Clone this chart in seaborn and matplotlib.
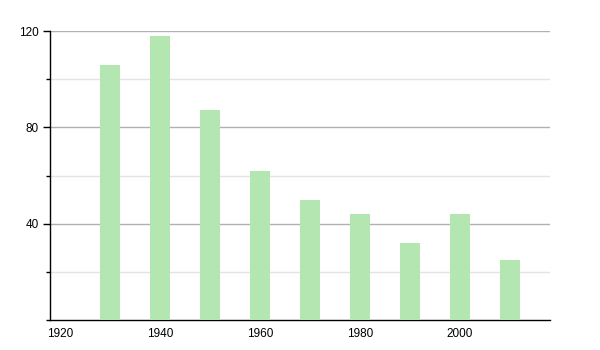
import matplotlib
matplotlib.use("Agg")
import matplotlib.pyplot as plt
import seaborn as sns
import pandas as pd
from matplotlib.ticker import MultipleLocator

years = [1930, 1940, 1950, 1960, 1970, 1980, 1990, 2000, 2010]
values = [106, 118, 87, 62, 50, 44, 32, 44, 25]
x_ticks = [1920, 1940, 1960, 1980, 2000]
y_ticks = [40, 80, 120]

sns.set_style("white")
plt.rcParams['font.family'] = ['Liberation Sans', 'DejaVu Sans']

df = pd.DataFrame({"year": years, "value": values})

fig = plt.figure(figsize=(6, 3.5), dpi=100)
ax = fig.add_axes([50/600, 30/350, 500/600, 289/350])

sns.barplot(data=df, x="year", y="value", native_scale=True, width=0.4,
            color="#b3e6b1", saturation=1, linewidth=0, edgecolor="none",
            ax=ax, zorder=3)

ax.set_xlim(1918, 2018)
ax.set_ylim(0, 120)
ax.set_xticks(x_ticks)
ax.set_xticklabels([str(t) for t in x_ticks])
ax.set_yticks(y_ticks)
ax.set_yticklabels([str(t) for t in y_ticks])
ax.yaxis.set_minor_locator(MultipleLocator(20))

ax.grid(False)
for v in y_ticks:
    ax.axhline(v, color="#b0b0b0", lw=1, zorder=1)
for v in [20, 60, 100]:
    ax.axhline(v, color="#e4e4e4", lw=1, zorder=1)

for s in ["top", "right"]:
    ax.spines[s].set_visible(False)
for s in ["left", "bottom"]:
    ax.spines[s].set_color("black")
    ax.spines[s].set_linewidth(1)

ax.tick_params(axis="y", which="major", left=True, length=5, width=1, color="black",
               labelsize=8.5, pad=3, labelcolor="black")
ax.tick_params(axis="y", which="minor", left=True, length=3, width=1, color="black")
ax.tick_params(axis="x", which="major", bottom=False, labelsize=8.5, pad=2,
               labelcolor="black")
ax.set_xlabel("")
ax.set_ylabel("")

fig.savefig("out.png", dpi=100)
